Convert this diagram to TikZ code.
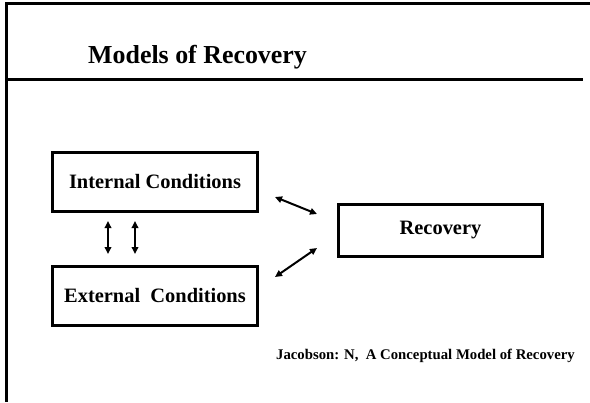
\documentclass[tikz,border=0pt]{standalone}
\usepackage{fontspec}
\setmainfont{Liberation Serif}
\usetikzlibrary{arrows.meta}

\begin{document}
\begin{tikzpicture}[x=1bp, y=-1bp,
		cond/.style={draw, line width=3bp, minimum width=205bp, minimum height=59bp, inner sep=0pt, font=\fontsize{20.5}{24}\selectfont\bfseries},
		link/.style={{Triangle[length=7bp, width=6.5bp]}-{Triangle[length=7bp, width=6.5bp]}, line width=2bp}]
				\useasboundingbox (0,0) rectangle (590,402);
				\draw[line width=3bp] (590,3) -- (6,3) -- (6,402);
				\draw[line width=3bp] (6,79) -- (583,79);
				\node[anchor=base west, inner sep=0pt, font=\fontsize{26}{30}\selectfont\bfseries] (T)at(88, 63) {Models of Recovery};
				\node[cond] (I)at(155, 182) {Internal Conditions};
				\node[cond] (E)at(155, 296) {External\ \ Conditions};
				\node[cond, minimum width=204bp, minimum height=52bp] (R)at(440.5, 230.5) {Recovery};
				\node[anchor=base west, inner sep=0pt, font=\fontsize{14.8}{17}\selectfont\bfseries] (J)at(276, 359) {Jacobson: N,\ \ A Conceptual Model of Recovery};
				\coordinate (IR1)at(275, 197);
				\coordinate (IR2)at(317, 214);
				\coordinate (ER1)at(317, 248);
				\coordinate (ER2)at(275, 277);
				\draw[link, shorten <=8bp, shorten >=11bp] ([xshift=-47bp]I.south) -- ([xshift=-47bp]E.north);
				\draw[link, shorten <=8bp, shorten >=11bp] ([xshift=-20bp]I.south) -- ([xshift=-20bp]E.north);
				\draw[link] (IR1) -- (IR2);
				\draw[link] (ER1) -- (ER2);
			\end{tikzpicture}
\end{document}
